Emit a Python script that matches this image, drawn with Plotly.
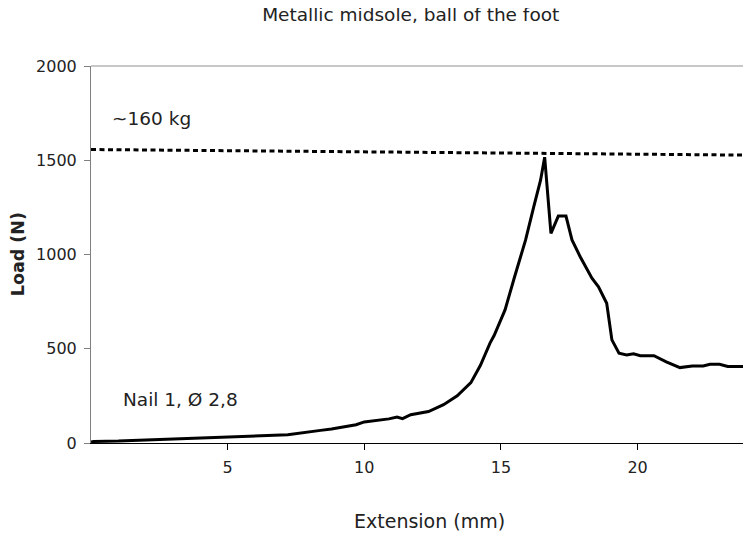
import plotly.graph_objects as go

# load-extension curve
extension = [0.0, 0.1, 1.0, 2.5, 5.0, 7.2, 8.4, 8.8, 9.7, 10.0, 10.9, 11.1, 11.2, 11.4,
             11.7, 12.35, 12.9, 13.4, 13.9, 14.25, 14.6, 14.75, 15.15, 15.5, 15.9,
             16.2, 16.45, 16.6, 16.83, 17.1, 17.38, 17.6, 17.9, 18.33, 18.57, 18.87,
             19.06, 19.32, 19.6, 19.85, 20.1, 20.6, 21.05, 21.55, 22.0, 22.4, 22.65,
             23.0, 23.3, 24.2]
load = [5, 8, 10, 18, 32, 44, 67, 74, 97, 112, 128, 132, 138, 129,
        150, 167, 203, 250, 320, 412, 530, 570, 706, 882, 1076,
        1253, 1394, 1516, 1112, 1204, 1204, 1077, 988, 874, 829, 741,
        547, 476, 467, 473, 463, 463, 430, 400, 409, 409, 418,
        418, 406, 406]

# ~160 kg reference level
limit_x = [0.0, 24.2]
limit_y = [1557, 1527]

xticks = [5, 10, 15, 20]
yticks = [0, 500, 1000, 1500, 2000]

font = "Verdana, DejaVu Sans, sans-serif"

fig = go.Figure()
fig.add_trace(go.Scatter(x=limit_x, y=limit_y, mode="lines",
                         line=dict(color="black", width=3, dash="5px,3.5px")))
fig.add_trace(go.Scatter(x=extension, y=load, mode="lines",
                         line=dict(color="black", width=3)))

# page body has an 8px margin, so the figure is 8px smaller than the window
fig.update_layout(
    width=743, height=526,
    margin=dict(l=82.5, r=0, t=58, b=90.7),
    paper_bgcolor="white", plot_bgcolor="white",
    showlegend=False,
    font=dict(family=font, size=16, color="#222222"),
    title=dict(text="Metallic midsole, ball of the foot", xref="container", x=0.542,
               xanchor="center", yref="container", y=1.0, yanchor="top",
               pad=dict(t=0), font=dict(size=18.5)),
    xaxis=dict(range=[0, 24.15], tickvals=xticks, showgrid=False, zeroline=False,
               showline=True, linecolor="black", linewidth=1,
               ticks="outside", ticklen=6, tickcolor="black",
               ticklabelstandoff=4),
    yaxis=dict(range=[0, 2000], tickvals=yticks, showgrid=False, zeroline=False,
               showline=True, linecolor="#808080", linewidth=1,
               ticks="outside", ticklen=6, tickcolor="#808080",
               ticklabelstandoff=4),
    shapes=[dict(type="line", xref="paper", yref="paper", x0=0, x1=1, y0=1, y1=1,
                 line=dict(color="#b4b4b4", width=1.5))],
    annotations=[
        dict(text="Extension (mm)", xref="paper", yref="paper", x=0.5125, y=-0.206,
             xanchor="center", yanchor="middle", showarrow=False, font=dict(size=19)),
        dict(text="<b>Load (N)</b>", xref="paper", yref="paper", x=-0.111, y=0.5,
             textangle=-90, xanchor="center", yanchor="middle", showarrow=False,
             font=dict(size=17.5)),
        dict(text="~160 kg", x=0.71, y=1722, xanchor="left", yanchor="middle",
             showarrow=False, font=dict(size=18.5)),
        dict(text="Nail 1, Ø 2,8", x=1.08, y=229, xanchor="left", yanchor="middle",
             showarrow=False, font=dict(size=18.5)),
    ],
)

fig.write_html("out.html")
